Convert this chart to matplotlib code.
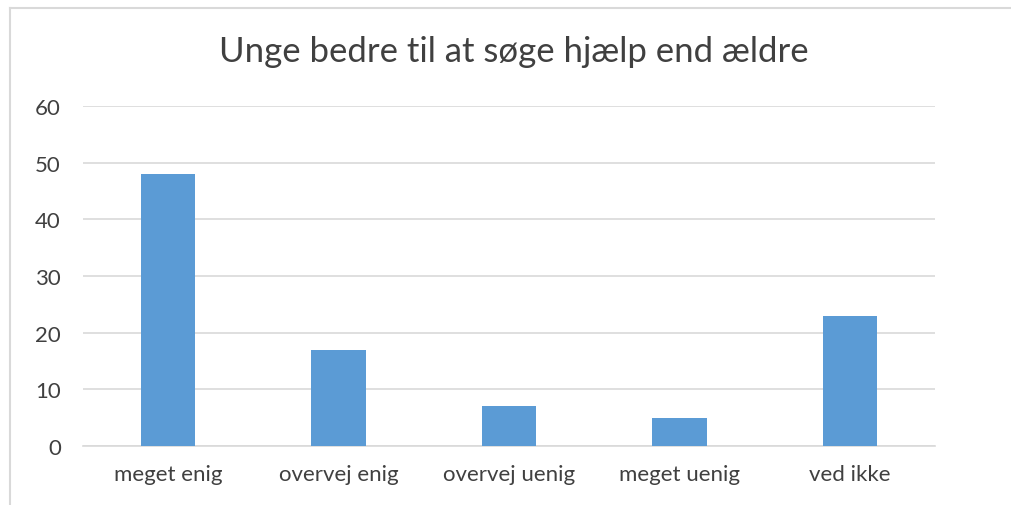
import matplotlib
matplotlib.use('Agg')
import matplotlib.pyplot as plt
from matplotlib.lines import Line2D

categories = ['meget enig', 'overvej enig', 'overvej uenig', 'meget uenig', 'ved ikke']
values = [48, 17, 7, 5, 23]
yticks = [0, 10, 20, 30, 40, 50, 60]
title = 'Unge bedre til at søge hjælp end ældre'

plt.rcParams['font.family'] = ['Lato', 'DejaVu Sans']

W, H = 1011, 506
fig = plt.figure(figsize=(W / 100, H / 100), dpi=100)
ax = fig.add_axes([83 / W, 1 - 447 / H, (935 - 83) / W, (447 - 107) / H])

x = list(range(len(categories)))
ax.bar(x, values, width=0.32, color='#5B9BD5', zorder=3)
ax.set_xlim(-0.5, len(categories) - 0.5)
ax.set_ylim(0, 60)
ax.set_yticks(yticks)
ax.set_xticks(x)
ax.set_xticklabels(categories)
ax.tick_params(axis='both', length=0, labelsize=16, colors='#404040')
ax.tick_params(axis='y', pad=16)
ax.tick_params(axis='x', pad=13)
ax.grid(axis='y', color='#D9D9D9', linewidth=1.2, zorder=0)
for s in ['top', 'right', 'left']:
    ax.spines[s].set_visible(False)
ax.spines['bottom'].set_color('#D9D9D9')
ax.spines['bottom'].set_linewidth(1.2)

fig.text(514 / W, 1 - 52 / H, title, ha='center', va='center',
         fontsize=25, color='#404040')

# chart border (left and top visible)
fig.add_artist(Line2D([10 / W, 10 / W], [0, 1 - 8.5 / H], transform=fig.transFigure,
                      color='#D9D9D9', linewidth=1.5))
fig.add_artist(Line2D([10 / W, 1], [1 - 8.5 / H, 1 - 8.5 / H], transform=fig.transFigure,
                      color='#D9D9D9', linewidth=1.5))

fig.savefig('out.png', dpi=100)
